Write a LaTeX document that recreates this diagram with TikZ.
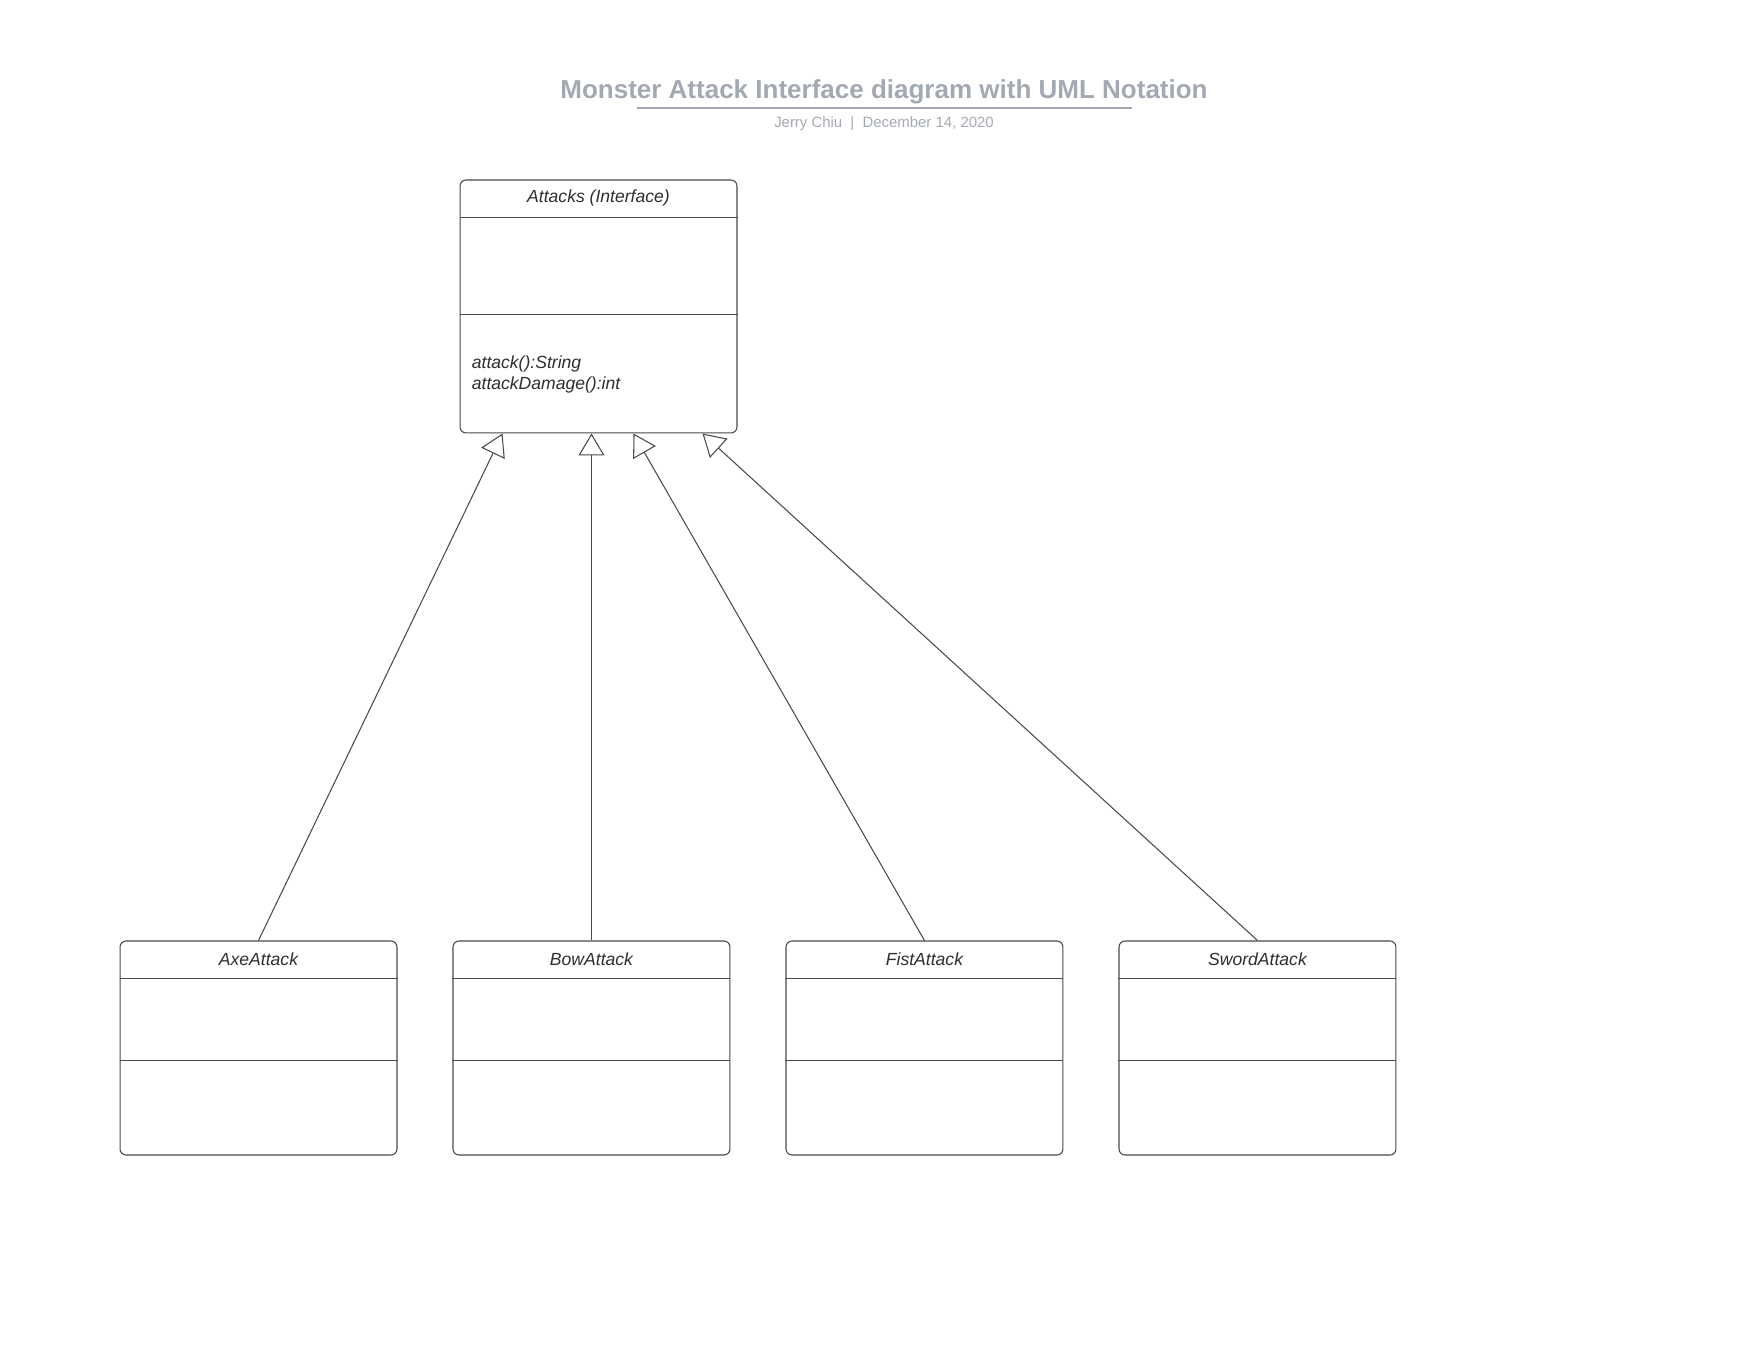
\documentclass[tikz,border=0pt]{standalone}
\usepackage{fontspec}
\setmainfont{Liberation Sans}
\usepackage{tikz}
\usetikzlibrary{arrows.meta, positioning, calc}
\definecolor{titlegray}{HTML}{A3A9B3}
\definecolor{subgray}{HTML}{A5AAB2}
\definecolor{boxline}{HTML}{4A4A4A}
\definecolor{textdark}{HTML}{2E2E2E}

\begin{document}
\begin{tikzpicture}[x=0.02cm, y=0.02cm,
		classbox/.style={draw=boxline, rounded corners=0.12cm, minimum width=5.54cm, inner sep=0, line width=0.6pt},
		classname/.style={anchor=north, minimum height=0.74cm, inner sep=0, font=\itshape\fontsize{10}{12}\selectfont, text=textdark},
		divider/.style={draw=boxline, line width=0.6pt},
		realize/.style={draw=boxline, line width=0.6pt, -{Triangle[open, length=0.44cm, width=0.52cm]}}]
			\useasboundingbox (0,0) rectangle (1760,1360);
			
			% title block
			\node[font=\bfseries\fontsize{14.8}{17}\selectfont, text=titlegray, anchor=base] (title) at (884,1261) {Monster Attack Interface diagram with UML Notation};
			\draw[titlegray, line width=0.85pt] ($(title.base)+(-247,-9)$) -- ($(title.base)+(248,-9)$);
			\node[font=\fontsize{8.5}{10}\selectfont, text=subgray, anchor=base] (subtitle) at (884,1232) {Jerry Chiu\hspace{0.55em}|\hspace{0.55em}December 14, 2020};
			
			% interface
			\node[classbox, minimum height=5.06cm] (iface) at (598.5,1053.5) {};
			\node[classname] (ifacename) at (iface.north) {Attacks (Interface)};
			\draw[divider] (iface.west |- ifacename.south) -- (iface.east |- ifacename.south);
			\draw[divider] ($(iface.north west)+(0,-135)$) -- ($(iface.north east)+(0,-135)$);
			\node[anchor=west, align=left, inner sep=0, font=\itshape\fontsize{10}{11.6}\selectfont, text=textdark] (ifaceops) at ($(iface.south west)+(12,59)$) {attack():String\\attackDamage():int};
			
			% implementing classes
			\node[classbox, minimum height=4.28cm] (axe) at (258.5,312) {};
			\node[classbox, minimum height=4.28cm, right=1.10cm of axe] (bow) {};
			\node[classbox, minimum height=4.28cm, right=1.10cm of bow] (fist) {};
			\node[classbox, minimum height=4.28cm, right=1.10cm of fist] (sword) {};
			\foreach \c/\n in {axe/AxeAttack, bow/BowAttack, fist/FistAttack, sword/SwordAttack} {
				\node[classname] (\c name) at (\c.north) {\n};
				\draw[divider] (\c.west |- \c name.south) -- (\c.east |- \c name.south);
				\draw[divider] ($(\c.north west)+(0,-120)$) -- ($(\c.north east)+(0,-120)$);
			}
			
			% realization arrows
			\coordinate (axetip) at ($(iface.south west)+(43,0)$);
			\coordinate (fisttip) at ($(iface.south west)+(174,0)$);
			\coordinate (swordtip) at ($(iface.south west)+(243,0)$);
			\draw[realize] (axe.north) -- (axetip);
			\draw[realize] (bow.north) -- (bow.north |- iface.south);
			\draw[realize] (fist.north) -- (fisttip);
			\draw[realize] (sword.north) -- (swordtip);
		\end{tikzpicture}
\end{document}
